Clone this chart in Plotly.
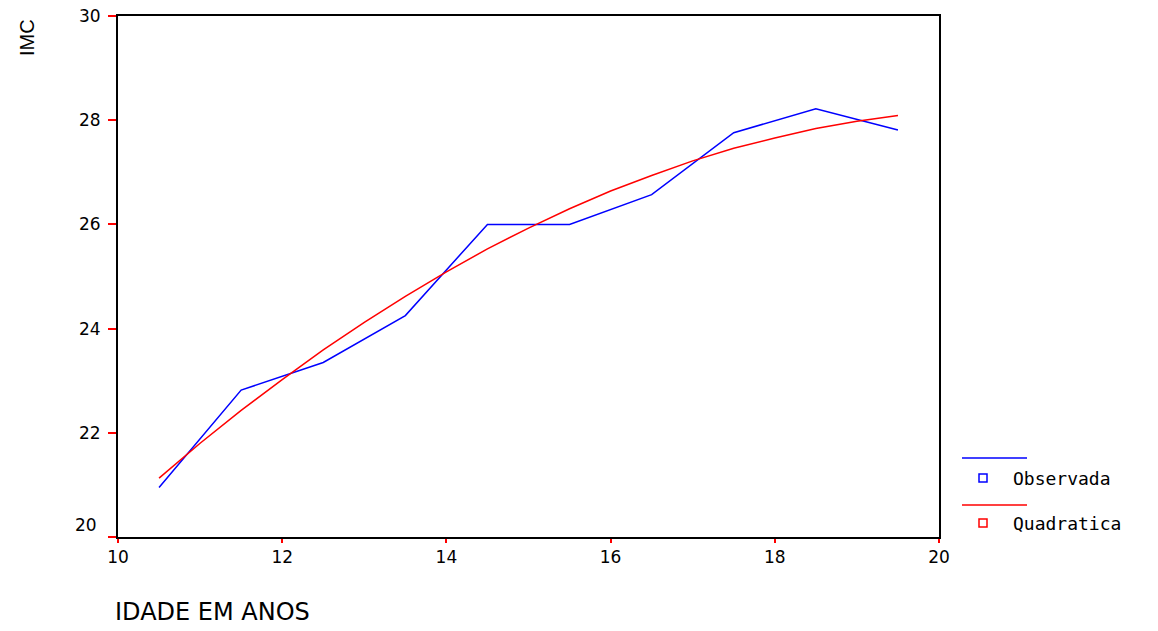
import plotly.graph_objects as go

# Observed data (mean IMC by age)
idade_obs = [10.5, 11.5, 12.5, 13.5, 14.5, 15.5, 16.5, 17.5, 18.5, 19.5]
imc_obs = [20.95, 22.82, 23.35, 24.25, 26.0, 26.0, 26.57, 27.76, 28.22, 27.81]

# Quadratic fit
idade_quad = [10.5, 11.0, 11.5, 12.0, 12.5, 13.0, 13.5, 14.0, 14.5, 15.0,
              15.5, 16.0, 16.5, 17.0, 17.5, 18.0, 18.5, 19.0, 19.5]
imc_quad = [21.13, 21.80, 22.43, 23.02, 23.59, 24.12, 24.62, 25.09, 25.53, 25.93,
            26.30, 26.64, 26.94, 27.22, 27.46, 27.66, 27.84, 27.98, 28.09]

x_ticks = [10, 12, 14, 16, 18, 20]
y_ticks = [20, 22, 24, 26, 28, 30]

W, H = 1158, 631
L, R, T, B = 118, 939, 16, 537


def px(xp):
    return (xp - L) / (R - L)


def py(yp):
    return (B - yp) / (B - T)


fig = go.Figure()
fig.add_trace(go.Scatter(x=idade_obs, y=imc_obs, mode="lines",
                         line=dict(color="#0000ff", width=1.5),
                         name="Observada", showlegend=False))
fig.add_trace(go.Scatter(x=idade_quad, y=imc_quad, mode="lines",
                         line=dict(color="#ff0000", width=1.5),
                         name="Quadratica", showlegend=False))

axis_common = dict(showgrid=False, zeroline=False, showline=True, linecolor="black",
                   linewidth=2, mirror=True, ticks="outside",
                   tickcolor="#ff0000", tickwidth=1.5, automargin=False,
                   tickfont=dict(family="DejaVu Sans", size=17, color="black"))

fig.update_xaxes(range=[10, 20], tickvals=x_ticks, ticktext=[str(v) for v in x_ticks],
                 ticklen=4, **axis_common)
# lowest y label is drawn slightly raised in the original (added as annotation below)
fig.update_yaxes(range=[20, 30], tickvals=y_ticks,
                 ticktext=["" if v == y_ticks[0] else str(v) for v in y_ticks],
                 ticklen=8, ticklabelstandoff=4, **axis_common)

shapes = []
annotations = []
# Legend entries (SPSS style)
legend_items = [("Observada", "#0000ff", 458, 478), ("Quadratica", "#ff0000", 505, 523)]
for name, color, line_y, sym_y in legend_items:
    shapes.append(dict(type="line", xref="paper", yref="paper",
                       x0=px(962), x1=px(1027), y0=py(line_y), y1=py(line_y),
                       line=dict(color=color, width=1.5)))
    shapes.append(dict(type="rect", xref="paper", yref="paper",
                       x0=px(979), x1=px(987), y0=py(sym_y + 4), y1=py(sym_y - 4),
                       line=dict(color=color, width=1.5), fillcolor="white"))
    annotations.append(dict(text=name, xref="paper", yref="paper", x=px(1011), y=py(sym_y),
                            xanchor="left", yanchor="middle", showarrow=False,
                            font=dict(family="DejaVu Sans Mono", size=18, color="black")))

annotations.append(dict(text=str(y_ticks[0]), xref="paper", yref="paper", x=px(99), y=py(525),
                        xanchor="right", yanchor="middle", showarrow=False,
                        font=dict(family="DejaVu Sans", size=17, color="black")))
annotations.append(dict(text="IMC", xref="paper", yref="paper", x=px(27), y=py(38),
                        xanchor="center", yanchor="middle", textangle=-90, showarrow=False,
                        font=dict(family="Liberation Sans", size=20, color="black")))
annotations.append(dict(text="IDADE EM ANOS", xref="paper", yref="paper", x=px(113), y=py(612),
                        xanchor="left", yanchor="middle", showarrow=False,
                        font=dict(family="DejaVu Sans", size=24, color="black")))

fig.update_layout(width=W, height=H, margin=dict(l=L, r=W - R, t=T, b=H - B, pad=0),
                  paper_bgcolor="white", plot_bgcolor="white",
                  shapes=shapes, annotations=annotations, showlegend=False)

fig.write_html("out.html", config={"displayModeBar": False},
               post_script="document.body.style.margin='0';document.body.style.padding='0';"
                           "document.body.style.overflow='hidden';")
